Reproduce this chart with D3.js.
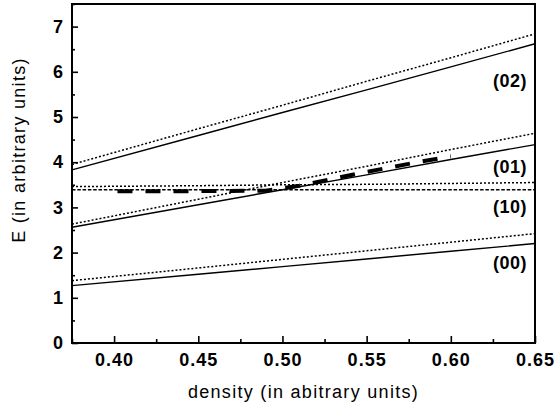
<!DOCTYPE html>
<html>
<head>
<meta charset="utf-8">
<script src="https://cdn.jsdelivr.net/npm/d3@7/dist/d3.min.js"></script>
<style>
  html, body { margin: 0; padding: 0; background: #fff; }
  svg { display: block; }
  .tick text { font-family: "Liberation Sans", Arial, sans-serif; font-weight: bold; }
</style>
</head>
<body>
<svg id="chart" width="555" height="413"></svg>
<script>
// Density sample points shared by the level curves
const density = [0.375, 0.45, 0.50, 0.55, 0.60, 0.65];

// Energy levels (solid) and their approximations (dotted)
const level02 = [3.83, 4.59, 5.10, 5.60, 6.11, 6.62];
const level02Approx = [3.95, 4.74, 5.26, 5.79, 6.31, 6.84];
const level01 = [2.56, 3.06, 3.39, 3.72, 4.06, 4.39];
const level01Approx = [2.63, 3.18, 3.55, 3.91, 4.28, 4.64];
const level10Approx = [3.46, 3.48, 3.50, 3.51, 3.53, 3.55];
const level10 = [3.39, 3.39, 3.39, 3.39, 3.39, 3.39];
const level00 = [1.27, 1.52, 1.69, 1.86, 2.03, 2.20];
const level00Approx = [1.38, 1.66, 1.85, 2.04, 2.23, 2.42];

// Thick dashed path: lowest excitation following the crossing
const crossDensity = [0.402, 0.45, 0.49, 0.51, 0.545, 0.58, 0.60];
const crossE = [3.36, 3.36, 3.37, 3.48, 3.75, 4.00, 4.13];

// Curve labels
const labelNames = ["(02)", "(01)", "(10)", "(00)"];
const labelE = [5.8, 3.9, 3.03, 1.77];

// Tick values
const xTicks = [0.40, 0.45, 0.50, 0.55, 0.60, 0.65];
const xMinor = [0.375, 0.425, 0.475, 0.525, 0.575, 0.625];
const yTicks = [0, 1, 2, 3, 4, 5, 6, 7];
const yMinor = [0.5, 1.5, 2.5, 3.5, 4.5, 5.5, 6.5, 7.5];

const svg = d3.select("#chart");
const plot = { left: 72, right: 535, top: 4, bottom: 343 };

const x = d3.scaleLinear().domain([0.375, 0.65]).range([plot.left, plot.right]);
const y = d3.scaleLinear().domain([0, 7.5]).range([plot.bottom, plot.top]);

const line = d3.line().x(d => x(d[0])).y(d => y(d[1]));
const pairs = (xs, ys) => xs.map((v, i) => [v, ys[i]]);

const dotted = "2,2";
const curves = [
  { data: pairs(density, level02Approx), dash: dotted, w: 1.5 },
  { data: pairs(density, level02), dash: null, w: 1.4 },
  { data: pairs(density, level01Approx), dash: dotted, w: 1.5 },
  { data: pairs(density, level01), dash: null, w: 1.4 },
  { data: pairs(density, level10Approx), dash: dotted, w: 1.5 },
  { data: pairs(density, level10), dash: "3.5,1.8", w: 1.3 },
  { data: pairs(density, level00Approx), dash: dotted, w: 1.5 },
  { data: pairs(density, level00), dash: null, w: 1.4 },
  { data: pairs(crossDensity, crossE), dash: "15,13", w: 4 }
];

svg.append("g").selectAll("path").data(curves).join("path")
  .attr("d", d => line(d.data))
  .attr("fill", "none")
  .attr("stroke", "#000")
  .attr("stroke-width", d => d.w)
  .attr("stroke-dasharray", d => d.dash);

// Axes with inward ticks
const fmt = d3.format(".2f");
const gx = svg.append("g").attr("transform", `translate(0,${plot.bottom})`)
  .call(d3.axisBottom(x).tickValues(xTicks).tickFormat(fmt).tickSizeInner(-7).tickSizeOuter(0).tickPadding(10));
gx.selectAll(".tick text").attr("font-size", 18).attr("letter-spacing", 1);
const gxm = svg.append("g").attr("transform", `translate(0,${plot.bottom})`)
  .call(d3.axisBottom(x).tickValues(xMinor).tickFormat("").tickSizeInner(-4).tickSizeOuter(0));

const gy = svg.append("g").attr("transform", `translate(${plot.left},0)`)
  .call(d3.axisLeft(y).tickValues(yTicks).tickFormat(d3.format("d")).tickSizeInner(-6).tickSizeOuter(0).tickPadding(9));
gy.selectAll(".tick text").attr("font-size", 18);
const gym = svg.append("g").attr("transform", `translate(${plot.left},0)`)
  .call(d3.axisLeft(y).tickValues(yMinor).tickFormat("").tickSizeInner(-3).tickSizeOuter(0));

[gx, gxm, gy, gym].forEach(g => {
  g.select(".domain").remove();
  g.selectAll(".tick line").attr("stroke", "#000").attr("stroke-width", 1.6);
  g.selectAll(".tick text").attr("fill", "#000");
});

// Frame
svg.append("rect")
  .attr("x", plot.left).attr("y", plot.top)
  .attr("width", plot.right - plot.left).attr("height", plot.bottom - plot.top)
  .attr("fill", "none").attr("stroke", "#000").attr("stroke-width", 2);

// Curve labels
svg.append("g").selectAll("text").data(labelNames).join("text")
  .attr("x", 527)
  .attr("y", (d, i) => y(labelE[i]) + 6.5)
  .attr("text-anchor", "end")
  .attr("font-family", "Liberation Sans, Arial, sans-serif")
  .attr("font-weight", "bold")
  .attr("font-size", 18)
  .attr("letter-spacing", 0.5)
  .text(d => d);

// Axis titles
svg.append("text")
  .attr("x", (plot.left + plot.right) / 2)
  .attr("y", 398)
  .attr("text-anchor", "middle")
  .attr("font-family", "Liberation Sans, Arial, sans-serif")
  .attr("font-size", 18)
  .attr("letter-spacing", 1.3)
  .text("density (in abitrary units)");

svg.append("text")
  .attr("transform", "translate(25,150) rotate(-90)")
  .attr("text-anchor", "middle")
  .attr("font-family", "Liberation Sans, Arial, sans-serif")
  .attr("font-size", 18)
  .attr("letter-spacing", 1.3)
  .text("E (in arbitrary units)");
</script>
</body>
</html>
